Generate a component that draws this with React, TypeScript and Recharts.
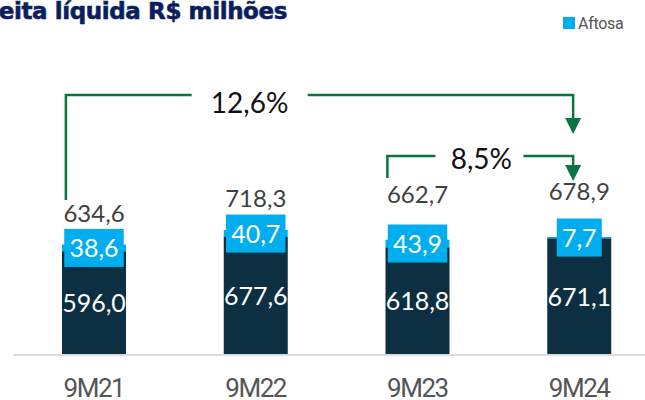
import React from 'react';
import { BarChart, Bar, XAxis, YAxis, LabelList, Customized } from 'recharts';

const periods = ['9M21', '9M22', '9M23', '9M24'];
const baseRevenue = [596.0, 677.6, 618.8, 671.1];
const aftosaRevenue = [38.6, 40.7, 43.9, 7.7];
const totalRevenue = [634.6, 718.3, 662.7, 678.9];
const growthLabels = ['12,6%', '8,5%'];

const chartData = periods.map((p, i) => ({
  period: p,
  base: baseRevenue[i],
  aftosa: aftosaRevenue[i],
  total: totalRevenue[i],
}));

const W = 662;
const H = 400;
const margin = { top: 181, right: 2, left: 13, bottom: 0 };
const xAxisH = 45;
const yMax = 1000;
const plotW = W - margin.left - margin.right;
const step = plotW / periods.length;
const bandCenter = (i: number) => margin.left + step * (i + 0.5);

const NAVY = '#0c2f41';
const BLUE = '#00aeef';
const GREEN = '#0a7442';
const NUM_FONT = 'Lato, sans-serif';

const fmt = (v: number) => v.toFixed(1).replace('.', ',');

const BaseLabel = (props: any) => {
  const { x, y, width, height, value } = props;
  return (
    <text x={x + width / 2} y={y + height / 2 + 9} textAnchor="middle" fill="#fff"
      fontFamily={NUM_FONT} fontSize={25}>
      {fmt(value)}
    </text>
  );
};

const AftosaLabel = (props: any) => {
  const { x, y, width, height, value } = props;
  const txt = fmt(value);
  const digits = txt.replace(',', '').length;
  const boxW = digits * 14.5 + 16;
  const cy = y + height / 2;
  return (
    <g>
      <rect x={x + width / 2 - boxW / 2} y={cy - 19} width={boxW} height={38} fill={BLUE} />
      <text x={x + width / 2} y={cy + 9} textAnchor="middle" fill="#fff"
        fontFamily={NUM_FONT} fontSize={25}>
        {txt}
      </text>
    </g>
  );
};

const TotalLabel = (props: any) => {
  const { x, y, width, index, value } = props;
  // the two later totals sit a bit higher, under the 8,5% bracket
  const lift = index < 2 ? 23 : 37;
  return (
    <text x={x + width / 2} y={y - lift} textAnchor="middle" fill="#404040"
      fontFamily={NUM_FONT} fontSize={24}>
      {fmt(value)}
    </text>
  );
};

const Tick = (props: any) => {
  const { x, y, payload } = props;
  return (
    <text x={x} y={y + 34} textAnchor="middle" fill="#555" fontFamily="Roboto, sans-serif"
      fontSize={26} letterSpacing={-1.5}>
      {payload.value}
    </text>
  );
};

const Arrow = ({ x, tip }: { x: number; tip: number }) => (
  <polygon points={`${x - 8},${tip - 16} ${x + 8},${tip - 16} ${x},${tip}`} fill={GREEN} />
);

const Annotations = () => {
  const l1 = bandCenter(0) - 28;
  const r = bandCenter(3) - 6;
  const t1 = bandCenter(1) - 6;
  const y1 = 95;
  const l2 = bandCenter(2) - 30;
  const t2 = bandCenter(2) + 64;
  const y2 = 156;
  return (
    <g>
      {/* title is cropped on the left in the source, keep it anchored at its right end */}
      <text x={287} y={19} textAnchor="end" fill="#0b1f5c" stroke="#0b1f5c" strokeWidth={0.6}
        fontFamily="'DejaVu Sans', sans-serif" fontWeight={700} fontSize={23} letterSpacing={-0.4}>
        Receita líquida R$ milhões
      </text>
      <rect x={563} y={17} width={12} height={12} fill={BLUE} />
      <text x={578} y={29} fill="#555" fontFamily="Roboto, sans-serif" fontSize={16}
        letterSpacing={-0.3}>
        Aftosa
      </text>

      <polyline points={`${l1},200 ${l1},${y1} ${t1 - 58},${y1}`} fill="none" stroke={GREEN} strokeWidth={2.5} />
      <polyline points={`${t1 + 58},${y1} ${r},${y1} ${r},${118}`} fill="none" stroke={GREEN} strokeWidth={2.5} />
      <Arrow x={r} tip={134} />
      <text x={t1} y={113} textAnchor="middle" fill="#111" fontFamily={NUM_FONT} fontSize={28}>
        {growthLabels[0]}
      </text>

      <polyline points={`${l2},178 ${l2},${y2} ${t2 - 46},${y2}`} fill="none" stroke={GREEN} strokeWidth={2.5} />
      <polyline points={`${t2 + 42},${y2} ${r},${y2} ${r},${165}`} fill="none" stroke={GREEN} strokeWidth={2.5} />
      <Arrow x={r} tip={181} />
      <text x={t2} y={169} textAnchor="middle" fill="#111" fontFamily={NUM_FONT} fontSize={28}>
        {growthLabels[1]}
      </text>
    </g>
  );
};

export default function App() {
  return (
    <div style={{ position: 'absolute', left: 0, top: 0, width: 645, height: 400, overflow: 'hidden', background: '#fff' }}>
      <BarChart width={W} height={H} data={chartData} margin={margin}>
        <XAxis dataKey="period" height={xAxisH} tickLine={false} interval={0}
          axisLine={{ stroke: '#dcdcdc', strokeWidth: 2 }} tick={<Tick />} />
        <YAxis hide domain={[0, yMax]} />
        <Bar dataKey="base" stackId="r" fill={NAVY} barSize={64} isAnimationActive={false}>
          <LabelList dataKey="base" content={<BaseLabel />} />
        </Bar>
        <Bar dataKey="aftosa" stackId="r" fill={BLUE} barSize={64} isAnimationActive={false}>
          <LabelList dataKey="aftosa" content={<AftosaLabel />} />
          <LabelList dataKey="total" content={<TotalLabel />} />
        </Bar>
        <Customized component={<Annotations />} />
      </BarChart>
    </div>
  );
}
